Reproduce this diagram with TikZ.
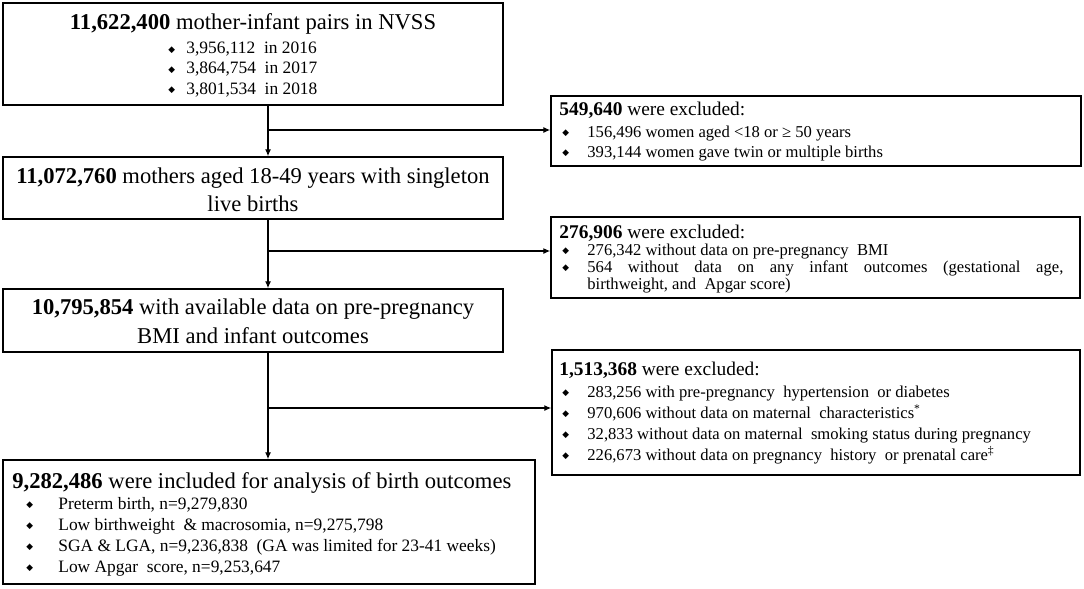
\documentclass[tikz,border=0pt]{standalone}
\usepackage{fontspec}
\setmainfont{Liberation Serif}
\newfontfamily\symfont{DejaVu Sans}
\usetikzlibrary{arrows.meta}
\usetikzlibrary{shadows}

\newcommand{\dia}{\raisebox{0.8pt}{\fontsize{4.4}{5}\symfont ◆}}
\newcommand{\itm}[1]{\makebox[#1][l]{\dia}}

\tikzset{
  box/.style={draw, line width=0.7pt, fill=white, inner sep=0pt},
  exbox/.style={box, drop shadow={shadow xshift=0.7pt, shadow yshift=-0.7pt, fill=black!60, opacity=0.6}},
  ttl/.style={inner sep=0pt, anchor=base, font=\fontsize{11.3}{13.5}\selectfont},
  exttl/.style={inner sep=0pt, anchor=base west, font=\fontsize{9.7}{11}\selectfont},
  lst/.style={inner sep=0pt, anchor=base west, font=\fontsize{8.7}{10}\selectfont},
  exlst/.style={inner sep=0pt, anchor=base west, font=\fontsize{8.3}{10}\selectfont},
  ln/.style={line width=0.6pt},
  arr/.style={ln, -{Latex[length=3.5pt,width=3pt]}}
}

\begin{document}
\begin{tikzpicture}[x=0.5pt, y=-0.5pt]
  \useasboundingbox (0,0) rectangle (1084,589);
  % main path
  \node[box, minimum width=250pt, minimum height=51pt] (a) at (253,54) {};
  \node[box, minimum width=250pt, minimum height=31pt] (b) at (253,188) {};
  \node[box, minimum width=250pt, minimum height=31.5pt] (c) at (253,320.5) {};
  \node[box, minimum width=266pt, minimum height=62pt] (d) at (269,522) {};
  % exclusions
  \node[exbox, minimum width=265pt, minimum height=35pt] (exa) at (816,131) {};
  \node[exbox, minimum width=264.5pt, minimum height=40.5pt] (exb) at (815.5,257.5) {};
  \node[exbox, minimum width=264pt, minimum height=62.5pt] (exc) at (816,412.5) {};

  \node[ttl] (ta) at (253,29) {\textbf{11,622,400} mother-infant pairs in NVSS};
  \node[lst] (ta1) at (168,54) {\itm{9pt}3,956,112~ in 2016};
  \node[lst] (ta2) at (168,74) {\itm{9pt}3,864,754~ in 2017};
  \node[lst] (ta3) at (168,94) {\itm{9pt}3,801,534~ in 2018};

  \node[ttl] (tb1) at (253,183) {\textbf{11,072,760} mothers aged 18-49 years with singleton};
  \node[ttl] (tb2) at (253,211) {live births};

  \node[ttl] (tc1) at (253,314) {\textbf{10,795,854} with available data on pre-pregnancy};
  \node[ttl] (tc2) at (253,343) {BMI and infant outcomes};

  \node[ttl, anchor=base west] (td) at (12,488) {\textbf{9,282,486} were included for analysis of birth outcomes};
  \node[lst] (td1) at (26,509) {\itm{16pt}Preterm birth, n=9,279,830};
  \node[lst] (td2) at (26,530) {\itm{16pt}Low birthweight ~\& macrosomia, n=9,275,798};
  \node[lst] (td3) at (26,551) {\itm{16pt}SGA \& LGA, n=9,236,838 ~(GA was limited for 23-41 weeks)};
  \node[lst] (td4) at (26,572) {\itm{16pt}Low Apgar ~score, n=9,253,647};

  \node[exttl] (tea) at (559,115) {\textbf{549,640} were excluded:};
  \node[exlst] (tea1) at (562,137) {\itm{12.5pt}156,496 women aged <18 or ≥ 50 years};
  \node[exlst] (tea2) at (562,157) {\itm{12.5pt}393,144 women gave twin or multiple births};

  \node[exttl] (teb) at (559,238) {\textbf{276,906} were excluded:};
  \node[exlst] (teb1) at (562,255) {\itm{12.5pt}276,342 without data on pre-pregnancy ~BMI};
  \node[exlst] (teb2) at (562,272) {\itm{12.5pt}\makebox[238pt][s]{564 without data on any infant outcomes (gestational age,}};
  \node[exlst] (teb3) at (587,289) {birthweight, and ~Apgar score)};

  \node[exttl] (tec) at (559,375) {\textbf{1,513,368} were excluded:};
  \node[exlst] (tec1) at (562,397) {\itm{12.5pt}283,256 with pre-pregnancy ~hypertension ~or diabetes};
  \node[exlst] (tec2) at (562,418) {\itm{12.5pt}970,606 without data on maternal ~characteristics\textsuperscript{*}};
  \node[exlst] (tec3) at (562,439) {\itm{12.5pt}32,833 without data on maternal ~smoking status during pregnancy};
  \node[exlst] (tec4) at (562,460) {\itm{12.5pt}226,673 without data on pregnancy ~history ~or prenatal care\textsuperscript{‡}};

  % connectors
  \coordinate (k1) at (268,130);
  \coordinate (k2) at (268,251);
  \coordinate (k3) at (268,408);
  \draw[arr] (a.south -| k1) -- (b.north -| k1);
  \draw[arr] (b.south -| k2) -- (c.north -| k2);
  \draw[arr] (c.south -| k3) -- (d.north -| k3);
  \draw[arr] (k1) -- (k1 -| exa.west);
  \draw[arr] (k2) -- (k2 -| exb.west);
  \draw[arr] (k3) -- (k3 -| exc.west);
\end{tikzpicture}
\end{document}
